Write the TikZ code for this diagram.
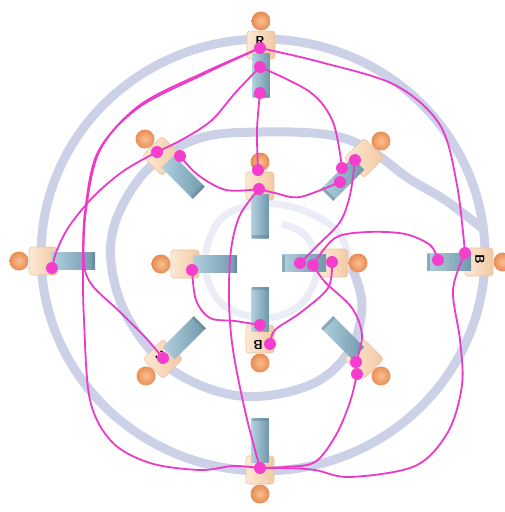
\documentclass[tikz,border=0pt]{standalone}
\usetikzlibrary{calc}
\definecolor{ringc}{RGB}{204,209,232}
\definecolor{ringf}{RGB}{234,236,246}
\definecolor{mag}{RGB}{235,58,200}
\definecolor{dotc}{RGB}{246,62,206}
\definecolor{bodyL}{RGB}{253,234,214}
\definecolor{bodyD}{RGB}{243,200,162}
\definecolor{bodyE}{RGB}{234,196,160}
\definecolor{barL}{RGB}{178,208,222}
\definecolor{barD}{RGB}{112,152,172}
\definecolor{headI}{RGB}{250,192,142}
\definecolor{headO}{RGB}{232,138,84}
\pgfdeclarelayer{bg}
\pgfdeclarelayer{figs}
\pgfdeclarelayer{lines}
\pgfsetlayers{bg,figs,lines,main}
\tikzset{
  ring/.style={draw=ringc, line width=9},
  ringlight/.style={draw=ringf, line width=7},
  link/.style={draw=mag, line width=1.8},
  dot/.style={circle, fill=dotc, inner sep=0pt, minimum size=12},
  letter/.style={font=\sffamily\bfseries\fontsize{13}{13}\selectfont, text=black, inner sep=0pt},
  pics/person/.style={code={
    \shade[inner color=headI, outer color=headO] (0,-24) circle (9.5);
    \shade[left color=bodyL, right color=bodyD, draw=bodyE, line width=0.6, rounded corners=3] (-14,-14) rectangle (14,14);
    \shade[left color=barL, right color=barD] (-8.5,8) rectangle (8.5,52);
    \fill[barD!85!black, opacity=0.45] (-8.5,49) rectangle (8.5,52);
  }}
}
\begin{document}
\begin{tikzpicture}[x=1pt,y=-1pt]
\useasboundingbox (0,0) rectangle (505,512);
\begin{pgfonlayer}{bg}
\fill[white] (0,0) rectangle (505,512);
\draw[ring] (263,255) ellipse [x radius=222, y radius=216];
\draw[ring] plot[smooth, tension=0.6] coordinates {(482,228) (445,200) (408,178) (370,150) (330,135) (262,132) (200,138) (150,167) (118,215) (111,262) (128,318) (172,370) (240,396) (310,385) (350,350) (362,305) (352,268)};
\draw[ringlight] plot[smooth, tension=0.6] coordinates {(352,268) (338,232) (302,210) (262,204) (222,218) (205,260) (220,302) (262,318) (300,305) (318,268) (306,236) (282,224)};
\end{pgfonlayer}

\begin{pgfonlayer}{figs}
% outer cardinal
\pic[rotate=0] at (261,45) {person};
\pic[rotate=90] at (43,261) {person};
\pic[rotate=-90] at (479,262) {person};
\pic[rotate=180] at (260,470) {person};
% diagonals
\pic[rotate=45] at (162,156) {person};
\pic[rotate=-45] at (364,158) {person};
\pic[rotate=135] at (163,359) {person};
\pic[rotate=-135] at (364,359) {person};
% inner
\pic[rotate=0] at (260,186) {person};
\pic[rotate=90] at (185,264) {person};
\pic[rotate=-90] at (334,263) {person};
\pic[rotate=180] at (260,339) {person};
% letters
\node[letter] (lR) at (260,41) {R};
\node[letter, rotate=-90] (lB1) at (480,259) {B};
\node[letter, rotate=180] (lB2) at (258,345) {B};
\node[letter, rotate=135] (lC) at (161,356) {C};
\end{pgfonlayer}

% dots
\node[dot] (T1) at (260,48) {};
\node[dot] (T2) at (260,67) {};
\node[dot] (T3) at (260,93) {};
\node[dot] (TL1) at (157,152) {};
\node[dot] (TL2) at (180,156) {};
\node[dot] (TR1) at (342,168) {};
\node[dot] (TR2) at (355,160) {};
\node[dot] (TR3) at (340,182) {};
\node[dot] (IT1) at (258,170) {};
\node[dot] (IT2) at (259,189) {};
\node[dot] (L1) at (52,268) {};
\node[dot] (IL1) at (192,270) {};
\node[dot] (IR1) at (300,263) {};
\node[dot] (IR2) at (313,265) {};
\node[dot] (IR3) at (332,262) {};
\node[dot] (R1) at (438,260) {};
\node[dot] (R2) at (465,253) {};
\node[dot] (IB1) at (260,325) {};
\node[dot] (IB2) at (270,344) {};
\node[dot] (BL1) at (163,358) {};
\node[dot] (BR1) at (356,362) {};
\node[dot] (BR2) at (357,374) {};
\node[dot] (B1) at (260,468) {};

\begin{pgfonlayer}{lines}
\draw[link] plot[smooth, tension=0.55] coordinates {(T1.center) (205,72) (140,105) (100,150) (86,210) (84,262) (92,285) (120,312) (145,337) (BL1.center)};
\draw[link] plot[smooth, tension=0.55] coordinates {(T1.center) (202,75) (138,108) (98,152) (85,212) (83,265) (84,320) (90,400) (112,442) (150,463) (200,470) (233,466) (B1.center)};
\draw[link] plot[smooth, tension=0.55] coordinates {(T2.center) (236,92) (212,120) (185,138) (TL1.center)};
\draw[link] plot[smooth, tension=0.55] coordinates {(TL1.center) (125,170) (95,195) (70,225) (57,250) (L1.center)};
\draw[link] plot[smooth, tension=0.55] coordinates {(TL2.center) (198,175) (226,190) (IT2.center)};
\draw[link] plot[smooth, tension=0.55] coordinates {(T3.center) (257,130) (IT1.center)};
\draw[link] plot[smooth, tension=0.55] coordinates {(IT2.center) (240,215) (231,250) (229,300) (233,350) (246,415) (B1.center)};
\draw[link] plot[smooth, tension=0.55] coordinates {(T1.center) (320,62) (395,85) (440,125) (457,185) (R2.center)};
\draw[link] plot[smooth, tension=0.55] coordinates {(R2.center) (453,290) (460,340) (462,385) (448,432) (415,466) (350,477) (315,470) (285,468) (B1.center)};
\draw[link] plot[smooth, tension=0.55] coordinates {(T2.center) (310,92) (333,122) (TR1.center)};
\draw[link] plot[smooth, tension=0.55] coordinates {(TR3.center) (300,197) (275,193) (IT2.center)};
\draw[link] plot[smooth, tension=0.55] coordinates {(TR2.center) (350,195) (340,222) (318,245) (IR1.center)};
\draw[link] plot[smooth, tension=0.55] coordinates {(IR2.center) (335,238) (368,232) (405,234) (430,245) (R1.center)};
\draw[link] plot[smooth, tension=0.55] coordinates {(IR2.center) (325,282) (352,308) (362,335) (BR1.center)};
\draw[link] plot[smooth, tension=0.55] coordinates {(IR3.center) (328,288) (300,313) (275,330) (IB2.center)};
\draw[link] plot[smooth, tension=0.55] coordinates {(IL1.center) (196,300) (210,318) (235,321) (IB1.center)};
\draw[link] plot[smooth, tension=0.55] coordinates {(BR2.center) (350,402) (336,435) (315,462) (285,467) (B1.center)};
\end{pgfonlayer}
\end{tikzpicture}
\end{document}
